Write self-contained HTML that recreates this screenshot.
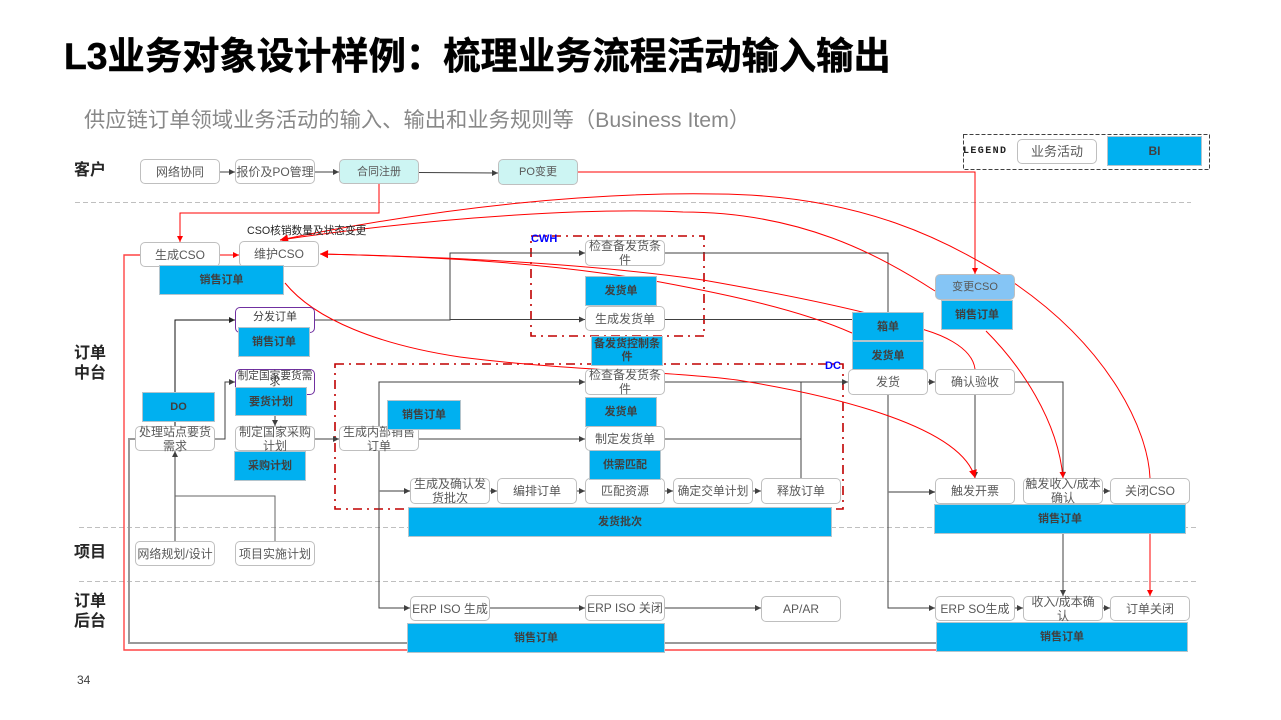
<!DOCTYPE html>
<html lang="zh"><head><meta charset="utf-8"><title>L3业务对象设计样例</title>
<style>
html,body{margin:0;padding:0;background:#fff}
#p{position:relative;width:1281px;height:720px;overflow:hidden;background:#fff;font-family:"Liberation Sans","Noto Sans CJK SC",sans-serif}
svg{position:absolute;left:0;top:0}
.n,.b{position:absolute;box-sizing:border-box;display:flex;align-items:center;justify-content:center;text-align:center;white-space:nowrap}
.n{background:#fff;border:1px solid #bfbfbf;border-radius:5px;color:#595959;font-size:12px;line-height:14px}
.b{background:#00b0f0;border:1px solid #b4c4cc;color:#404040;font-size:11px;font-weight:bold;line-height:14px}
.t{position:absolute;white-space:nowrap}
.l{font-size:16px;font-weight:bold;color:#262626;line-height:20px;left:74px}
</style></head><body><div id="p">
<div class="t" style="left:64px;top:28px;font-size:37.3px;font-weight:bold;color:#000;line-height:50px;-webkit-text-stroke:.5px #000">L3业务对象设计样例<span style="font-family:'Noto Sans CJK TC',sans-serif">：</span>梳理业务流程活动输入输出</div>
<div class="t" style="left:84px;top:105px;font-size:21.3px;color:#888;line-height:30px">供应链订单领域业务活动的输入、输出和业务规则等（Business Item）</div>
<div class="t l" style="top:161px">客户</div>
<div class="t l" style="top:344px">订单<br>中台</div>
<div class="t l" style="top:543px">项目</div>
<div class="t l" style="top:592px">订单<br>后台</div>
<div class="t" style="left:77px;top:673px;font-size:12px;color:#404040;line-height:14px">34</div>

<svg width="1281" height="720" viewBox="0 0 1281 720" fill="none">
<defs>
<marker id="g" markerUnits="userSpaceOnUse" markerWidth="8" markerHeight="8" refX="7" refY="4" orient="auto"><path d="M1,1 L7,4 L1,7Z" fill="#404040"/></marker>
<marker id="r" markerUnits="userSpaceOnUse" markerWidth="8" markerHeight="8" refX="7" refY="4" orient="auto"><path d="M1,1 L7,4 L1,7Z" fill="#f00"/></marker>
<marker id="R" markerUnits="userSpaceOnUse" markerWidth="10" markerHeight="10" refX="9" refY="5" orient="auto"><path d="M1,1 L9,5 L1,9Z" fill="#f00"/></marker>
<marker id="k" markerUnits="userSpaceOnUse" markerWidth="8" markerHeight="8" refX="7" refY="4" orient="auto"><path d="M1,1 L7,4 L1,7Z" fill="#222"/></marker>
</defs>
<g stroke="#bfbfbf" stroke-dasharray="5 3">
<path d="M75,202.5H1191M79,527.5H1197M79,581.5H1197"/>
</g>
<g stroke="#c00000" stroke-width="1.6" stroke-dasharray="9 5 2 5">
<rect x="531" y="236" width="173" height="100"/>
<rect x="335" y="364" width="508" height="145"/>
</g>
<rect x="963.5" y="134.5" width="246" height="35" stroke="#404040" stroke-dasharray="4 2"/>

<g stroke="#404040" stroke-width="1">
<path d="M220,172H235" marker-end="url(#g)"/>
<path d="M315,172H339" marker-end="url(#g)"/>
<path d="M419,172.500L498,173" marker-end="url(#g)"/>
<path d="M175,541V451" marker-end="url(#g)"/>
<path d="M275,541V496H175" stroke="#666"/>
<path d="M215,439H225V382H235" marker-end="url(#g)"/>
<path d="M275,416V426" marker-end="url(#g)"/>
<path d="M315,439H339" marker-end="url(#g)"/>
<path d="M315,320H450V253H585" marker-end="url(#g)"/>
<path d="M450,319.500H585" marker-end="url(#g)"/>
<path d="M665,253H888V312"/>
<path d="M665,319.500H852"/>
<path d="M888,395V608H935" marker-end="url(#g)"/>
<path d="M888,492H935" marker-end="url(#g)" stroke="#7f7f7f" stroke-width="1.4"/>
<path d="M419,439H585" marker-end="url(#g)"/>
<path d="M379,426V382H585" marker-end="url(#g)"/>
<path d="M379,451V608H410" marker-end="url(#g)"/>
<path d="M379,491H410" marker-end="url(#g)" stroke="#7f7f7f" stroke-width="1.4"/>
<path d="M665,382H848" marker-end="url(#g)"/>
<path d="M665,439H801V382M801,382V478"/>
<path d="M490,491H497" marker-end="url(#g)"/>
<path d="M577,491H585" marker-end="url(#g)"/>
<path d="M665,491H673" marker-end="url(#g)"/>
<path d="M753,491H761" marker-end="url(#g)"/>
<path d="M490,608H585" marker-end="url(#g)"/>
<path d="M665,608H761" marker-end="url(#g)"/>
<path d="M928,382H935" marker-end="url(#g)"/>
<path d="M975,395V478" marker-end="url(#g)"/>
<path d="M1015,382H1063V478" marker-end="url(#g)"/>
<path d="M1103,491H1110" marker-end="url(#g)"/>
<path d="M1063,534V596" marker-end="url(#g)"/>
<path d="M1015,608H1023" marker-end="url(#g)"/>
<path d="M1103,608H1110" marker-end="url(#g)"/>
<path d="M135,439H129V643H936" stroke="#999" stroke-width="2"/>
</g>
<path d="M175,392V320H235" stroke="#111" marker-end="url(#k)"/>
<path d="M175,422V426" stroke="#111"/>

<g stroke="#f00" stroke-width="1">
<path d="M578,172H975V274" marker-end="url(#r)"/>
<path d="M379,184V213H180V242" marker-end="url(#r)"/>
<path d="M220,255H239" marker-end="url(#r)"/>
<path d="M140,255H124V650H936" stroke="#f44" stroke-width="1.4"/>
<path d="M1150,534V596" marker-end="url(#r)"/>
<path d="M1150,478C1148,430 1110,350 1017,285C950,240 860,195 717,194C600,192 450,205 280,240" marker-end="url(#R)"/>
<path d="M935,291C880,255 800,212 683,212C600,208 450,215 280,240" marker-end="url(#R)"/>
<path d="M986,331C1020,365 1058,420 1063,478" marker-end="url(#r)"/>
<path d="M975,369C972,345 935,333 925,330C880,314 800,297 703,280C620,268 500,258 320,254" marker-end="url(#R)"/>
<path d="M852,333C800,310 730,295 660,282C590,270 500,258 320,254" marker-end="url(#R)"/>
<path d="M285,283C315,320 380,345 460,357C560,370 680,372 737,380C800,390 960,420 975,478" marker-end="url(#R)"/>
</g>
</svg>

<div class="t" style="left:247px;top:224px;font-size:10.700px;color:#262626;line-height:14px">CSO核销数量及状态变更</div>
<div class="t" style="left:531px;top:232px;font-size:11px;font-weight:bold;color:#00f;line-height:14px">CWH</div>
<div class="t" style="left:825px;top:359px;font-size:11px;font-weight:bold;color:#00f;line-height:14px">DC</div>
<div class="t" style="left:963px;top:146px;font-size:10px;font-weight:bold;color:#222;line-height:12px;font-family:'Liberation Mono',monospace;letter-spacing:1.400px">LEGEND</div>

<div class="n" style="left:1017px;top:139px;width:80px;height:25px;font-size:13px">业务活动</div>
<div class="b" style="left:1107px;top:136px;width:95px;height:30px;font-size:12px">BI</div>

<div class="n" style="left:140px;top:159px;width:80px;height:25px">网络协同</div>
<div class="n" style="left:235px;top:159px;width:80px;height:25px">报价及PO管理</div>
<div class="n" style="left:339px;top:159px;width:80px;height:25px;background:#cdf5f3;font-size:11px">合同注册</div>
<div class="n" style="left:498px;top:159px;width:80px;height:26px;background:#cdf5f3;font-size:11px">PO变更</div>

<div class="n" style="left:140px;top:242px;width:80px;height:25px">生成CSO</div>
<div class="n" style="left:239px;top:241px;width:80px;height:26px">维护CSO</div>
<div class="b" style="left:159px;top:265px;width:125px;height:30px">销售订单</div>
<div class="n" style="left:235px;top:307px;width:80px;height:26px;border-color:#7030a0;color:#404040;font-size:11px;align-items:flex-start;padding-top:2px">分发订单</div>
<div class="b" style="left:238px;top:327px;width:72px;height:30px">销售订单</div>

<div class="n" style="left:235px;top:369px;width:80px;height:26px;border-color:#7030a0;color:#404040;font-size:10.700px;line-height:6px;align-items:flex-start;padding-top:3px">制定国家要货需<br>求</div>
<div class="b" style="left:235px;top:387px;width:72px;height:29px">要货计划</div>
<div class="b" style="left:142px;top:392px;width:73px;height:30px">DO</div>
<div class="n" style="left:135px;top:426px;width:80px;height:25px">处理站点要货<br>需求</div>
<div class="n" style="left:235px;top:426px;width:80px;height:25px">制定国家采购<br>计划</div>
<div class="b" style="left:234px;top:451px;width:72px;height:30px">采购计划</div>
<div class="n" style="left:339px;top:426px;width:80px;height:25px">生成内部销售<br>订单</div>
<div class="b" style="left:387px;top:400px;width:74px;height:30px">销售订单</div>
<div class="n" style="left:135px;top:541px;width:80px;height:25px">网络规划/设计</div>
<div class="n" style="left:235px;top:541px;width:80px;height:25px">项目实施计划</div>

<div class="n" style="left:585px;top:240px;width:80px;height:26px">检查备发货条<br>件</div>
<div class="b" style="left:585px;top:276px;width:72px;height:30px">发货单</div>
<div class="n" style="left:585px;top:306px;width:80px;height:25px">生成发货单</div>
<div class="n" style="left:585px;top:369px;width:80px;height:26px">检查备发货条<br>件</div>
<div class="b" style="left:591px;top:336px;width:72px;height:30px;line-height:13px">备发货控制条<br>件</div>
<div class="b" style="left:585px;top:397px;width:72px;height:30px">发货单</div>
<div class="n" style="left:585px;top:426px;width:80px;height:25px">制定发货单</div>
<div class="n" style="left:410px;top:478px;width:80px;height:26px">生成及确认发<br>货批次</div>
<div class="n" style="left:497px;top:478px;width:80px;height:26px">编排订单</div>
<div class="n" style="left:585px;top:478px;width:80px;height:26px">匹配资源</div>
<div class="b" style="left:589px;top:450px;width:72px;height:30px">供需匹配</div>
<div class="n" style="left:673px;top:478px;width:80px;height:26px;font-size:11.800px">确定交单计划</div>
<div class="n" style="left:761px;top:478px;width:80px;height:26px">释放订单</div>
<div class="b" style="left:408px;top:507px;width:424px;height:30px">发货批次</div>
<div class="n" style="left:410px;top:596px;width:80px;height:25px">ERP ISO 生成</div>
<div class="n" style="left:585px;top:595px;width:80px;height:26px">ERP ISO 关闭</div>
<div class="n" style="left:761px;top:596px;width:80px;height:26px">AP/AR</div>
<div class="b" style="left:407px;top:623px;width:258px;height:30px">销售订单</div>

<div class="n" style="left:935px;top:274px;width:80px;height:26px;background:#85c5f5;font-size:11px">变更CSO</div>
<div class="b" style="left:941px;top:300px;width:72px;height:30px">销售订单</div>
<div class="b" style="left:852px;top:312px;width:72px;height:29px">箱单</div>
<div class="b" style="left:852px;top:341px;width:72px;height:29px">发货单</div>
<div class="n" style="left:848px;top:369px;width:80px;height:26px">发货</div>
<div class="n" style="left:935px;top:369px;width:80px;height:26px">确认验收</div>
<div class="n" style="left:935px;top:478px;width:80px;height:26px">触发开票</div>
<div class="n" style="left:1023px;top:478px;width:80px;height:26px">触发收入/成本<br>确认</div>
<div class="n" style="left:1110px;top:478px;width:80px;height:26px">关闭CSO</div>
<div class="b" style="left:934px;top:504px;width:252px;height:30px">销售订单</div>
<div class="n" style="left:935px;top:596px;width:80px;height:25px">ERP SO生成</div>
<div class="n" style="left:1023px;top:596px;width:80px;height:25px">收入/成本确<br>认</div>
<div class="n" style="left:1110px;top:596px;width:80px;height:25px">订单关闭</div>
<div class="b" style="left:936px;top:622px;width:252px;height:30px">销售订单</div>
</div></body></html>
